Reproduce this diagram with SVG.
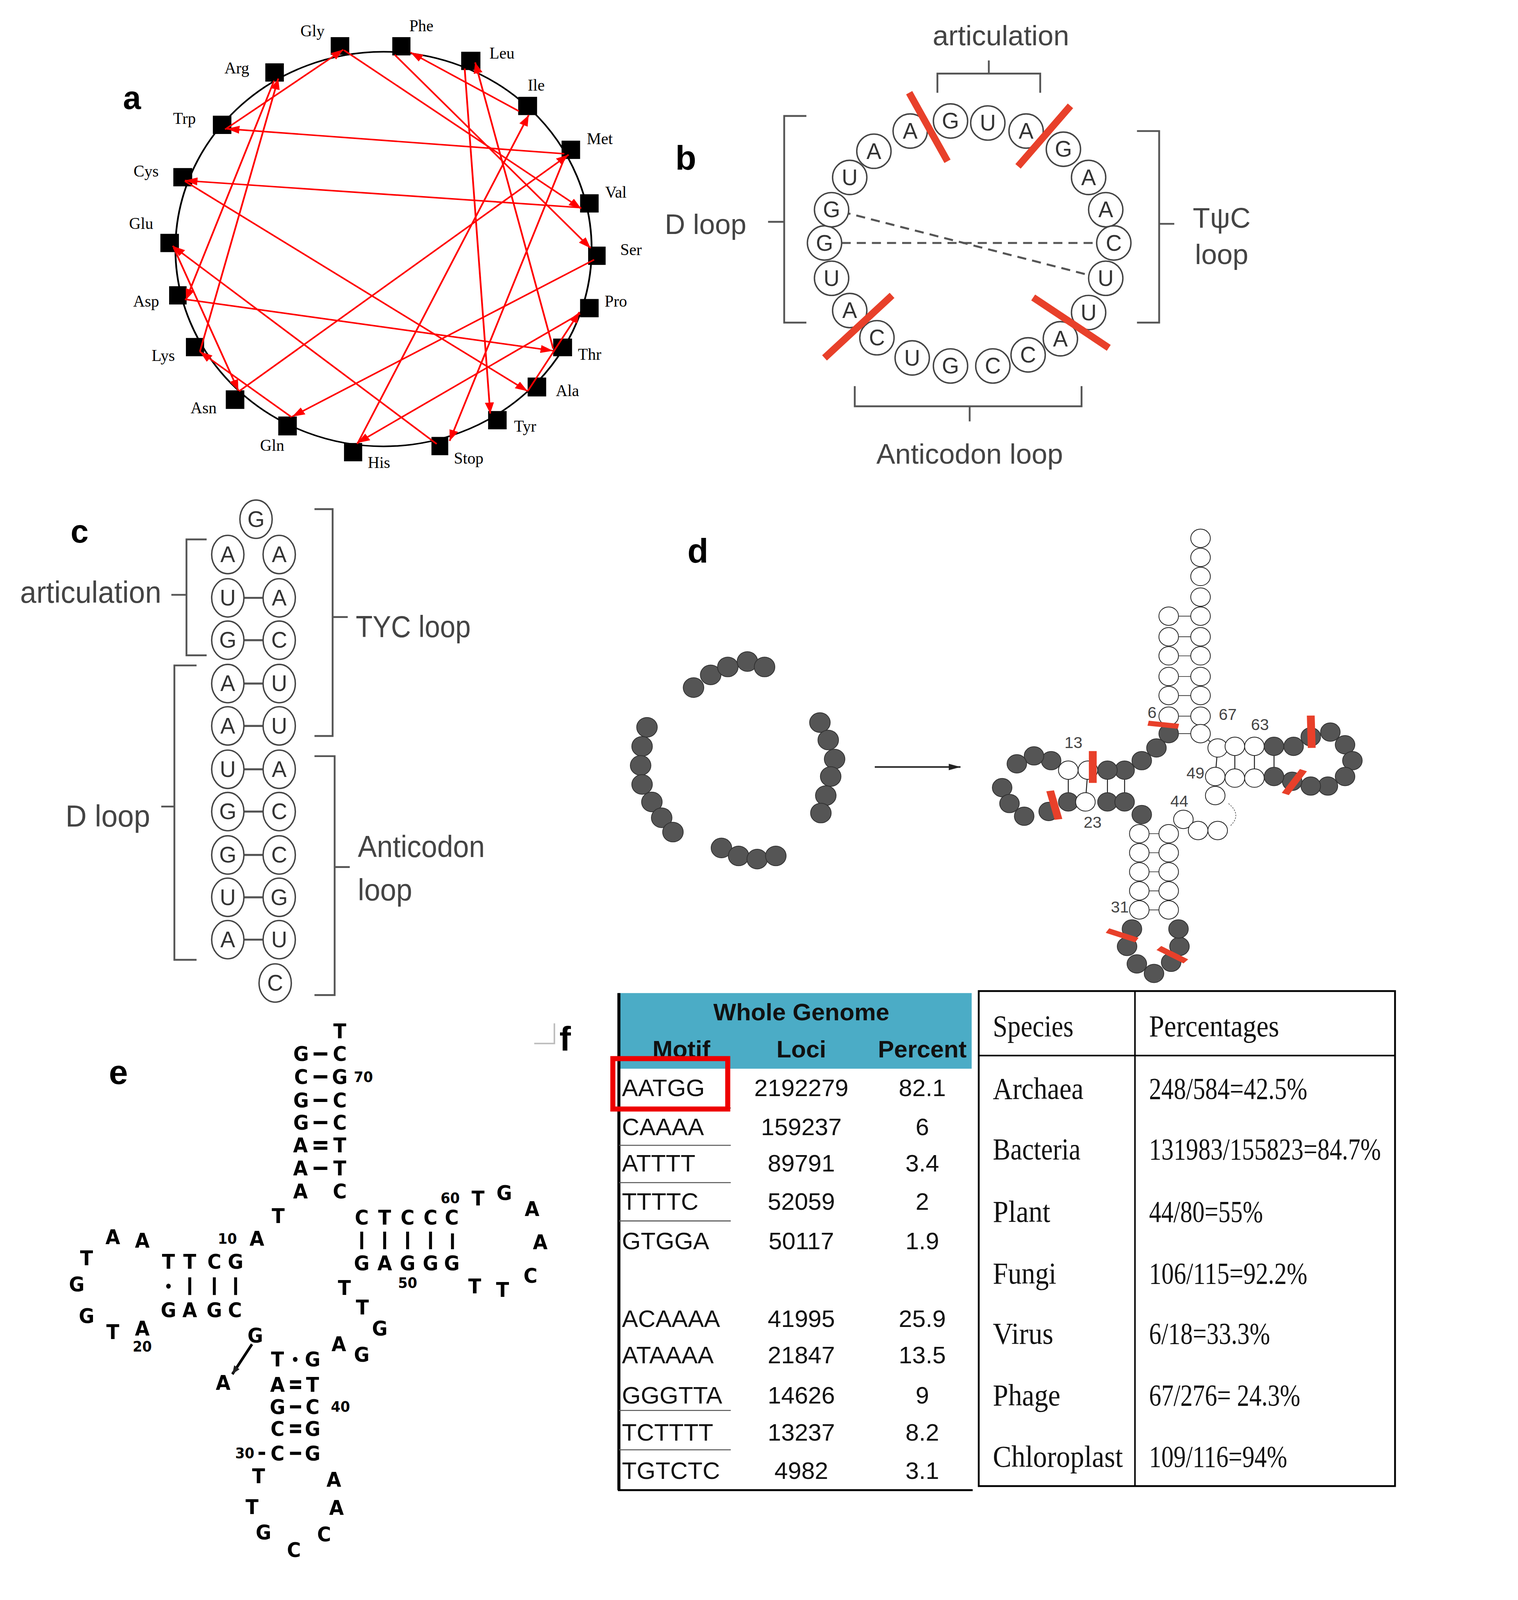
<svg xmlns="http://www.w3.org/2000/svg" width="3887" height="4300" viewBox="0 0 3887 4300">
<defs>
<style>
.lab{font-family:"Liberation Sans",Arial,sans-serif;font-weight:bold;fill:#000}
.aa{font-family:"Liberation Serif","Times New Roman",serif;font-size:16px;fill:#000}
.nt{font-family:"Liberation Sans",Arial,sans-serif;font-size:22px;fill:#333;text-anchor:middle;dominant-baseline:central}
.gt{font-family:"Liberation Sans",Arial,sans-serif;fill:#444}
.nc{fill:#fff;stroke:#444;stroke-width:1.4}
.arr{stroke:#f00;stroke-width:5;fill:none;marker-end:url(#ah)}
.brk{fill:none;stroke:#555;stroke-width:1.8}
.dk{fill:#555;stroke:#333;stroke-width:2;vector-effect:non-scaling-stroke}
.wt{fill:#fff;stroke:#222;stroke-width:2;vector-effect:non-scaling-stroke}
.rung{stroke:#222;stroke-width:2;vector-effect:non-scaling-stroke}
.red{stroke:#e8402a;stroke-width:7;stroke-linecap:butt}
.rd{stroke:#e8402a;stroke-width:16px;vector-effect:non-scaling-stroke}
.et{font-family:"DejaVu Sans","Liberation Sans",sans-serif;font-weight:bold;font-size:58px;text-anchor:middle;dominant-baseline:central}
.en{font-family:"DejaVu Sans","Liberation Sans",sans-serif;font-weight:bold;font-size:42px;text-anchor:middle;dominant-baseline:central}
.tb{font-family:"Liberation Sans",Arial,sans-serif;font-size:24px;fill:#111}
.sp{font-family:"Liberation Serif","Times New Roman",serif;font-size:30px;fill:#111}
</style>
<marker id="ah" markerUnits="userSpaceOnUse" markerWidth="40" markerHeight="30" refX="36" refY="13" orient="auto"><path d="M0,0 L36,13 L0,26 z" fill="#f00"/></marker>
<marker id="bh" markerUnits="userSpaceOnUse" markerWidth="30" markerHeight="30" refX="24" refY="10" orient="auto"><path d="M0,0 L24,10 L0,20 z" fill="#222"/></marker>
</defs>
<rect width="3887" height="4300" fill="#fff"/>
<g transform="scale(2.581)">
<!-- panel a -->
<g id="panel-a">
<text class="lab" x="122" y="108" font-size="32">a</text>
<g transform="translate(108.8,0) scale(0.347,0.302)">
<ellipse cx="783" cy="818" rx="595" ry="648" fill="none" stroke="#000" stroke-width="5"/>
<g fill="#000">
<rect x="632" y="122" width="53" height="58"/><rect x="808" y="122" width="52" height="60"/><rect x="1005" y="170" width="55" height="60"/><rect x="1168" y="318" width="54" height="60"/><rect x="1292" y="462" width="53" height="60"/><rect x="1345" y="638" width="53" height="60"/><rect x="1368" y="810" width="50" height="60"/><rect x="1345" y="982" width="53" height="60"/><rect x="1268" y="1112" width="54" height="58"/><rect x="1195" y="1240" width="53" height="62"/><rect x="1082" y="1350" width="53" height="60"/><rect x="920" y="1435" width="48" height="60"/><rect x="670" y="1455" width="52" height="60"/><rect x="482" y="1368" width="53" height="62"/><rect x="332" y="1282" width="53" height="61"/><rect x="218" y="1110" width="52" height="60"/><rect x="170" y="940" width="50" height="60"/><rect x="145" y="768" width="53" height="60"/><rect x="182" y="552" width="54" height="60"/><rect x="295" y="380" width="53" height="60"/><rect x="445" y="208" width="53" height="60"/>
</g>
<g id="connectors-a">
<line class="arr" x1="1300" y1="505" x2="335" y2="423"/>
<line class="arr" x1="330" y1="425" x2="668" y2="163"/>
<line class="arr" x1="670" y1="165" x2="1348" y2="685"/>
<line class="arr" x1="815" y1="180" x2="1375" y2="815"/>
<line class="arr" x1="1170" y1="365" x2="860" y2="172"/>
<line class="arr" x1="1015" y1="225" x2="1088" y2="1358"/>
<line class="arr" x1="1268" y1="1145" x2="1045" y2="205"/>
<line class="arr" x1="708" y1="1458" x2="1198" y2="378"/>
<line class="arr" x1="370" y1="1285" x2="1312" y2="508"/>
<line class="arr" x1="1300" y1="520" x2="972" y2="1448"/>
<line class="arr" x1="1195" y1="1285" x2="1343" y2="1025"/>
<line class="arr" x1="1345" y1="1030" x2="708" y2="1455"/>
<line class="arr" x1="1348" y1="682" x2="215" y2="593"/>
<line class="arr" x1="215" y1="595" x2="1195" y2="1285"/>
<line class="arr" x1="1385" y1="853" x2="522" y2="1368"/>
<line class="arr" x1="215" y1="983" x2="1268" y2="1152"/>
<line class="arr" x1="258" y1="1155" x2="482" y2="258"/>
<line class="arr" x1="470" y1="265" x2="218" y2="985"/>
<line class="arr" x1="183" y1="813" x2="368" y2="1283"/>
<line class="arr" x1="520" y1="1370" x2="258" y2="1155"/>
<line class="arr" x1="935" y1="1458" x2="180" y2="808"/>
</g>
</g>
<g class="aa" text-anchor="middle">
<text x="310" y="36">Gly</text><text x="418" y="31">Phe</text><text x="498" y="58">Leu</text><text x="532" y="90">Ile</text><text x="595" y="143">Met</text><text x="611" y="196">Val</text><text x="626" y="253">Ser</text><text x="611" y="304">Pro</text><text x="585" y="357">Thr</text><text x="563" y="393">Ala</text><text x="521" y="428">Tyr</text><text x="465" y="460">Stop</text><text x="376" y="464">His</text><text x="270" y="447">Gln</text><text x="202" y="410">Asn</text><text x="162" y="358">Lys</text><text x="145" y="304">Asp</text><text x="140" y="227">Glu</text><text x="145" y="175">Cys</text><text x="183" y="123">Trp</text><text x="235" y="73">Arg</text>
</g>
</g>
<!-- panel b -->
<g id="panel-b">
<text class="lab" x="670" y="168" font-size="34">b</text>
<g class="brk">
<path d="M930,92 V73 H1032 V92 M981,73 V60"/>
<path d="M800,115 H778 V320 H800 M778,220 H762"/>
<path d="M1128,130 H1150 V320 H1128 M1150,222 H1165"/>
<path d="M848,383 V403 H1073 V383 M962,403 V418"/>
</g>
<text class="gt" x="993" y="45" font-size="28" text-anchor="middle">articulation</text>
<text class="gt" x="700" y="232" font-size="28" text-anchor="middle">D loop</text>
<text class="gt" x="1212" y="226" font-size="28" text-anchor="middle">TψC</text>
<text class="gt" x="1212" y="262" font-size="28" text-anchor="middle">loop</text>
<text class="gt" x="962" y="460" font-size="28" text-anchor="middle">Anticodon loop</text>
<g stroke="#555" stroke-width="2" stroke-dasharray="9,6" fill="none">
<line x1="835" y1="210" x2="1085" y2="274"/><line x1="835" y1="241" x2="1088" y2="241"/>
</g>
<g>
<circle class="nc" cx="903" cy="130" r="17"/><circle class="nc" cx="943" cy="120" r="17"/><circle class="nc" cx="980" cy="122" r="17"/><circle class="nc" cx="1018" cy="130" r="17"/><circle class="nc" cx="1055" cy="148" r="17"/><circle class="nc" cx="1080" cy="176" r="17"/><circle class="nc" cx="1097" cy="208" r="17"/><circle class="nc" cx="1105" cy="241" r="17"/><circle class="nc" cx="1097" cy="276" r="17"/><circle class="nc" cx="1080" cy="310" r="17"/><circle class="nc" cx="1052" cy="336" r="17"/><circle class="nc" cx="1020" cy="352" r="17"/><circle class="nc" cx="985" cy="363" r="17"/><circle class="nc" cx="943" cy="363" r="17"/><circle class="nc" cx="905" cy="355" r="17"/><circle class="nc" cx="870" cy="335" r="17"/><circle class="nc" cx="843" cy="308" r="17"/><circle class="nc" cx="825" cy="276" r="17"/><circle class="nc" cx="818" cy="241" r="17"/><circle class="nc" cx="825" cy="208" r="17"/><circle class="nc" cx="843" cy="176" r="17"/><circle class="nc" cx="867" cy="150" r="17"/>
</g>
<g class="nt">
<text x="903" y="130">A</text><text x="943" y="120">G</text><text x="980" y="122">U</text><text x="1018" y="130">A</text><text x="1055" y="148">G</text><text x="1080" y="176">A</text><text x="1097" y="208">A</text><text x="1105" y="241">C</text><text x="1097" y="276">U</text><text x="1080" y="310">U</text><text x="1052" y="336">A</text><text x="1020" y="352">C</text><text x="985" y="363">C</text><text x="943" y="363">G</text><text x="905" y="355">U</text><text x="870" y="335">C</text><text x="843" y="308">A</text><text x="825" y="276">U</text><text x="818" y="241">G</text><text x="825" y="208">G</text><text x="843" y="176">U</text><text x="867" y="150">A</text>
</g>
<g class="red">
<line x1="902" y1="92" x2="940" y2="160"/><line x1="1010" y1="165" x2="1062" y2="105"/><line x1="818" y1="355" x2="885" y2="293"/><line x1="1025" y1="295" x2="1100" y2="345"/>
</g>
</g>
<!-- panel c -->
<g id="panel-c">
<text class="lab" x="70" y="538" font-size="32">c</text>
<g class="brk">
<path d="M205,535 H185 V650 H205 M185,590 H170"/>
<path d="M195,660 H173 V952 H195 M173,800 H160"/>
<path d="M312,505 H330 V730 H312 M330,612 H345"/>
<path d="M312,750 H332 V987 H312 M332,860 H347"/>
</g>
<text class="gt" x="160" y="598" font-size="30" text-anchor="end" textLength="140" lengthAdjust="spacingAndGlyphs">articulation</text>
<text class="gt" x="107" y="820" font-size="30" text-anchor="middle" textLength="84" lengthAdjust="spacingAndGlyphs">D loop</text>
<text class="gt" x="410" y="632" font-size="30" text-anchor="middle" textLength="114" lengthAdjust="spacingAndGlyphs">TYC loop</text>
<text class="gt" x="418" y="850" font-size="30" text-anchor="middle" textLength="126" lengthAdjust="spacingAndGlyphs">Anticodon</text>
<text class="gt" x="382" y="893" font-size="30" text-anchor="middle" textLength="54" lengthAdjust="spacingAndGlyphs">loop</text>
<g stroke="#555" stroke-width="2">
<line x1="242" y1="593" x2="261" y2="593"/><line x1="242" y1="635" x2="261" y2="635"/><line x1="242" y1="678" x2="261" y2="678"/><line x1="242" y1="720" x2="261" y2="720"/><line x1="242" y1="763" x2="261" y2="763"/><line x1="242" y1="805" x2="261" y2="805"/><line x1="242" y1="848" x2="261" y2="848"/><line x1="242" y1="890" x2="261" y2="890"/><line x1="242" y1="932" x2="261" y2="932"/>
</g>
<g>
<ellipse class="nc" cx="254" cy="515" rx="16" ry="19"/><ellipse class="nc" cx="273" cy="975" rx="16" ry="19"/>
<ellipse class="nc" cx="226" cy="550" rx="16" ry="19"/><ellipse class="nc" cx="277" cy="550" rx="16" ry="19"/>
<ellipse class="nc" cx="226" cy="593" rx="16" ry="19"/><ellipse class="nc" cx="277" cy="593" rx="16" ry="19"/>
<ellipse class="nc" cx="226" cy="635" rx="16" ry="19"/><ellipse class="nc" cx="277" cy="635" rx="16" ry="19"/>
<ellipse class="nc" cx="226" cy="678" rx="16" ry="19"/><ellipse class="nc" cx="277" cy="678" rx="16" ry="19"/>
<ellipse class="nc" cx="226" cy="720" rx="16" ry="19"/><ellipse class="nc" cx="277" cy="720" rx="16" ry="19"/>
<ellipse class="nc" cx="226" cy="763" rx="16" ry="19"/><ellipse class="nc" cx="277" cy="763" rx="16" ry="19"/>
<ellipse class="nc" cx="226" cy="805" rx="16" ry="19"/><ellipse class="nc" cx="277" cy="805" rx="16" ry="19"/>
<ellipse class="nc" cx="226" cy="848" rx="16" ry="19"/><ellipse class="nc" cx="277" cy="848" rx="16" ry="19"/>
<ellipse class="nc" cx="226" cy="890" rx="16" ry="19"/><ellipse class="nc" cx="277" cy="890" rx="16" ry="19"/>
<ellipse class="nc" cx="226" cy="932" rx="16" ry="19"/><ellipse class="nc" cx="277" cy="932" rx="16" ry="19"/>
</g>
<g class="nt" font-size="26">
<text x="254" y="515">G</text><text x="273" y="975">C</text>
<text x="226" y="550">A</text><text x="277" y="550">A</text>
<text x="226" y="593">U</text><text x="277" y="593">A</text>
<text x="226" y="635">G</text><text x="277" y="635">C</text>
<text x="226" y="678">A</text><text x="277" y="678">U</text>
<text x="226" y="720">A</text><text x="277" y="720">U</text>
<text x="226" y="763">U</text><text x="277" y="763">A</text>
<text x="226" y="805">G</text><text x="277" y="805">C</text>
<text x="226" y="848">G</text><text x="277" y="848">C</text>
<text x="226" y="890">U</text><text x="277" y="890">G</text>
<text x="226" y="932">A</text><text x="277" y="932">U</text>
</g>
</g>
<!-- panel d -->
<g id="panel-d">
<text class="lab" x="682" y="558" font-size="34">d</text>
<g transform="translate(620,493) scale(0.486,0.315)">
<g id="d-lines">
<line x1="510" y1="850" x2="685" y2="850" stroke="#222" stroke-width="4" vector-effect="non-scaling-stroke" marker-end="url(#bh)"/>
<g class="rung">
<line x1="1110" y1="375" x2="1175" y2="375"/><line x1="1110" y1="440" x2="1175" y2="440"/><line x1="1110" y1="500" x2="1175" y2="500"/><line x1="1110" y1="565" x2="1175" y2="565"/><line x1="1110" y1="625" x2="1175" y2="625"/><line x1="1110" y1="690" x2="1175" y2="690"/>
<line x1="1175" y1="690" x2="1175" y2="745"/><line x1="1175" y1="745" x2="1210" y2="790"/>
<line x1="1210" y1="790" x2="1205" y2="880"/><line x1="1245" y1="785" x2="1245" y2="885"/><line x1="1285" y1="785" x2="1285" y2="885"/><line x1="1325" y1="785" x2="1325" y2="880"/>
<line x1="1210" y1="790" x2="1365" y2="785"/><line x1="1205" y1="880" x2="1325" y2="880"/>
<line x1="905" y1="860" x2="905" y2="960"/><line x1="945" y1="860" x2="940" y2="960"/><line x1="985" y1="860" x2="985" y2="960"/><line x1="1020" y1="860" x2="1020" y2="960"/>
<line x1="1050" y1="1060" x2="1110" y2="1060"/><line x1="1050" y1="1120" x2="1110" y2="1120"/><line x1="1050" y1="1180" x2="1110" y2="1180"/><line x1="1050" y1="1240" x2="1110" y2="1240"/><line x1="1050" y1="1300" x2="1110" y2="1300"/>
<line x1="1110" y1="745" x2="1175" y2="745"/>
</g>
<path d="M1232,965 Q1260,1000 1236,1035" fill="none" stroke="#444" stroke-width="1.5" stroke-dasharray="4,3" vector-effect="non-scaling-stroke"/>
</g>
<g>
<ellipse class="dk" cx="140" cy="600" rx="21" ry="31"/><ellipse class="dk" cx="175" cy="560" rx="21" ry="31"/><ellipse class="dk" cx="210" cy="535" rx="21" ry="31"/><ellipse class="dk" cx="250" cy="518" rx="21" ry="31"/><ellipse class="dk" cx="285" cy="535" rx="21" ry="31"/>
<ellipse class="dk" cx="45" cy="725" rx="21" ry="31"/><ellipse class="dk" cx="35" cy="785" rx="21" ry="31"/><ellipse class="dk" cx="32" cy="845" rx="21" ry="31"/><ellipse class="dk" cx="35" cy="905" rx="21" ry="31"/><ellipse class="dk" cx="55" cy="960" rx="21" ry="31"/><ellipse class="dk" cx="75" cy="1010" rx="21" ry="31"/><ellipse class="dk" cx="98" cy="1055" rx="21" ry="31"/>
<ellipse class="dk" cx="398" cy="710" rx="21" ry="31"/><ellipse class="dk" cx="415" cy="765" rx="21" ry="31"/><ellipse class="dk" cx="428" cy="825" rx="21" ry="31"/><ellipse class="dk" cx="420" cy="880" rx="21" ry="31"/><ellipse class="dk" cx="410" cy="940" rx="21" ry="31"/><ellipse class="dk" cx="400" cy="995" rx="21" ry="31"/>
<ellipse class="dk" cx="197" cy="1105" rx="21" ry="31"/><ellipse class="dk" cx="232" cy="1130" rx="21" ry="31"/><ellipse class="dk" cx="270" cy="1140" rx="21" ry="31"/><ellipse class="dk" cx="308" cy="1130" rx="21" ry="31"/>
</g>
<g>
<ellipse class="wt" cx="1175" cy="130" rx="20" ry="29"/><ellipse class="wt" cx="1175" cy="190" rx="20" ry="29"/><ellipse class="wt" cx="1175" cy="250" rx="20" ry="29"/><ellipse class="wt" cx="1175" cy="315" rx="20" ry="29"/><ellipse class="wt" cx="1175" cy="375" rx="20" ry="29"/><ellipse class="wt" cx="1175" cy="440" rx="20" ry="29"/><ellipse class="wt" cx="1175" cy="500" rx="20" ry="29"/><ellipse class="wt" cx="1175" cy="565" rx="20" ry="29"/><ellipse class="wt" cx="1175" cy="625" rx="20" ry="29"/><ellipse class="wt" cx="1175" cy="690" rx="20" ry="29"/><ellipse class="wt" cx="1175" cy="745" rx="20" ry="29"/>
<ellipse class="wt" cx="1110" cy="375" rx="20" ry="29"/><ellipse class="wt" cx="1110" cy="440" rx="20" ry="29"/><ellipse class="wt" cx="1110" cy="500" rx="20" ry="29"/><ellipse class="wt" cx="1110" cy="565" rx="20" ry="29"/><ellipse class="wt" cx="1110" cy="625" rx="20" ry="29"/><ellipse class="wt" cx="1110" cy="690" rx="20" ry="29"/>
<ellipse class="dk" cx="1110" cy="745" rx="20" ry="29"/><ellipse class="dk" cx="1085" cy="790" rx="20" ry="29"/><ellipse class="dk" cx="1055" cy="830" rx="20" ry="29"/><ellipse class="dk" cx="1020" cy="860" rx="20" ry="29"/><ellipse class="dk" cx="985" cy="860" rx="20" ry="29"/>
<ellipse class="wt" cx="945" cy="860" rx="20" ry="29"/><ellipse class="wt" cx="905" cy="860" rx="20" ry="29"/>
<ellipse class="dk" cx="870" cy="830" rx="20" ry="29"/><ellipse class="dk" cx="835" cy="815" rx="20" ry="29"/><ellipse class="dk" cx="800" cy="840" rx="20" ry="29"/>
<ellipse class="dk" cx="770" cy="915" rx="20" ry="29"/><ellipse class="dk" cx="785" cy="965" rx="20" ry="29"/><ellipse class="dk" cx="815" cy="1005" rx="20" ry="29"/>
<ellipse class="dk" cx="865" cy="990" rx="20" ry="29"/><ellipse class="dk" cx="905" cy="960" rx="20" ry="29"/><ellipse class="wt" cx="940" cy="960" rx="20" ry="29"/><ellipse class="dk" cx="985" cy="960" rx="20" ry="29"/><ellipse class="dk" cx="1020" cy="960" rx="20" ry="29"/><ellipse class="dk" cx="1055" cy="1000" rx="20" ry="29"/>
<ellipse class="wt" cx="1050" cy="1060" rx="20" ry="29"/><ellipse class="wt" cx="1050" cy="1120" rx="20" ry="29"/><ellipse class="wt" cx="1050" cy="1180" rx="20" ry="29"/><ellipse class="wt" cx="1050" cy="1240" rx="20" ry="29"/><ellipse class="wt" cx="1050" cy="1300" rx="20" ry="29"/>
<ellipse class="wt" cx="1110" cy="1060" rx="20" ry="29"/><ellipse class="wt" cx="1110" cy="1120" rx="20" ry="29"/><ellipse class="wt" cx="1110" cy="1180" rx="20" ry="29"/><ellipse class="wt" cx="1110" cy="1240" rx="20" ry="29"/><ellipse class="wt" cx="1110" cy="1300" rx="20" ry="29"/>
<ellipse class="dk" cx="1035" cy="1360" rx="20" ry="29"/><ellipse class="dk" cx="1025" cy="1415" rx="20" ry="29"/><ellipse class="dk" cx="1045" cy="1470" rx="20" ry="29"/><ellipse class="dk" cx="1080" cy="1500" rx="20" ry="29"/><ellipse class="dk" cx="1115" cy="1465" rx="20" ry="29"/><ellipse class="dk" cx="1132" cy="1415" rx="20" ry="29"/><ellipse class="dk" cx="1130" cy="1360" rx="20" ry="29"/>
<ellipse class="wt" cx="1140" cy="1015" rx="20" ry="29"/><ellipse class="wt" cx="1170" cy="1050" rx="20" ry="29"/><ellipse class="wt" cx="1210" cy="1050" rx="20" ry="29"/><ellipse class="wt" cx="1205" cy="940" rx="20" ry="29"/>
<ellipse class="wt" cx="1210" cy="790" rx="20" ry="29"/><ellipse class="wt" cx="1245" cy="785" rx="20" ry="29"/><ellipse class="wt" cx="1285" cy="785" rx="20" ry="29"/><ellipse class="dk" cx="1325" cy="785" rx="20" ry="29"/><ellipse class="dk" cx="1365" cy="785" rx="20" ry="29"/><ellipse class="dk" cx="1400" cy="755" rx="20" ry="29"/>
<ellipse class="dk" cx="1440" cy="740" rx="20" ry="29"/><ellipse class="dk" cx="1470" cy="780" rx="20" ry="29"/><ellipse class="dk" cx="1485" cy="830" rx="20" ry="29"/><ellipse class="dk" cx="1470" cy="880" rx="20" ry="29"/><ellipse class="dk" cx="1435" cy="910" rx="20" ry="29"/><ellipse class="dk" cx="1400" cy="910" rx="20" ry="29"/><ellipse class="dk" cx="1362" cy="895" rx="20" ry="29"/>
<ellipse class="wt" cx="1205" cy="880" rx="20" ry="29"/><ellipse class="wt" cx="1245" cy="885" rx="20" ry="29"/><ellipse class="wt" cx="1285" cy="885" rx="20" ry="29"/><ellipse class="dk" cx="1325" cy="880" rx="20" ry="29"/>
</g>
<g class="rd">
<line x1="1068" y1="712" x2="1130" y2="722"/>
<line x1="955" y1="800" x2="955" y2="900"/>
<line x1="868" y1="925" x2="885" y2="1015"/>
<line x1="1400" y1="688" x2="1402" y2="790"/>
<line x1="1385" y1="860" x2="1348" y2="935"/>
<line x1="985" y1="1365" x2="1045" y2="1395"/>
<line x1="1090" y1="1420" x2="1145" y2="1462"/>
</g>
</g>
<g class="gt" font-size="16" fill="#666">
<text x="1143" y="712" text-anchor="middle">6</text><text x="1218" y="714" text-anchor="middle">67</text><text x="1250" y="724" text-anchor="middle">63</text><text x="1065" y="742" text-anchor="middle">13</text><text x="1186" y="772" text-anchor="middle">49</text><text x="1170" y="800" text-anchor="middle">44</text><text x="1084" y="821" text-anchor="middle">23</text><text x="1111" y="905" text-anchor="middle">31</text>
</g>
</g>
<!-- panel e -->
<g id="panel-e">
<text class="lab" x="108" y="1075" font-size="34">e</text>
<g transform="translate(55,1000) scale(0.325,0.349)">
<g class="et">
<text x="868" y="65">T</text>
<text x="750" y="130">G</text><text x="868" y="130">C</text>
<text x="750" y="195">C</text><text x="868" y="195">G</text>
<text x="750" y="262">G</text><text x="868" y="262">C</text>
<text x="750" y="325">G</text><text x="868" y="325">C</text>
<text x="748" y="390">A</text><text x="868" y="390">T</text>
<text x="748" y="455">A</text><text x="868" y="455">T</text>
<text x="748" y="520">A</text><text x="868" y="520">C</text>
<text x="680" y="590">T</text>
<text x="1290" y="540">T</text><text x="1370" y="525">G</text><text x="1455" y="570">A</text><text x="1480" y="665">A</text><text x="1450" y="760">C</text><text x="1365" y="800">T</text><text x="1280" y="790">T</text>
<text x="935" y="595">C</text><text x="1005" y="595">T</text><text x="1075" y="595">C</text><text x="1145" y="595">C</text><text x="1210" y="595">C</text>
<text x="935" y="725">G</text><text x="1005" y="725">A</text><text x="1075" y="725">G</text><text x="1145" y="725">G</text><text x="1210" y="725">G</text>
<text x="882" y="795">T</text><text x="937" y="850">T</text><text x="990" y="910">G</text><text x="935" y="985">G</text><text x="865" y="955">A</text>
<text x="95" y="710">T</text><text x="175" y="650">A</text><text x="265" y="660">A</text><text x="65" y="785">G</text><text x="95" y="875">G</text><text x="175" y="920">T</text><text x="265" y="910">A</text>
<text x="615" y="655">A</text>
<text x="345" y="720">T</text><text x="410" y="720">T</text><text x="485" y="720">C</text><text x="550" y="720">G</text>
<text x="345" y="858">G</text><text x="410" y="858">A</text><text x="485" y="858">G</text><text x="548" y="858">C</text>
<text x="610" y="930">G</text><text x="512" y="1065">A</text>
<text x="678" y="998">T</text><text x="785" y="998">G</text>
<text x="678" y="1070">A</text><text x="785" y="1070">T</text>
<text x="678" y="1133">G</text><text x="785" y="1133">C</text>
<text x="678" y="1195">C</text><text x="785" y="1195">G</text>
<text x="678" y="1265">C</text><text x="785" y="1265">G</text>
<text x="620" y="1330">T</text><text x="850" y="1340">A</text><text x="600" y="1418">T</text><text x="858" y="1420">A</text><text x="635" y="1490">G</text><text x="820" y="1495">C</text><text x="728" y="1540">C</text>
</g>
<g class="en">
<text x="940" y="195">70</text><text x="1205" y="540">60</text><text x="1075" y="780">50</text><text x="265" y="962">20</text><text x="525" y="655">10</text><text x="870" y="1133">40</text><text x="578" y="1265">30</text>
</g>
<g stroke="#000" stroke-width="9" fill="none">
<path d="M788,130 H830 M788,195 H830 M788,262 H830 M788,325 H830 M788,382 H830 M788,398 H830 M788,455 H830 M716,1062 H750 M716,1078 H750 M716,1133 H750 M716,1187 H750 M716,1203 H750 M716,1265 H750 M620,1265 H640"/>
<path d="M935,635 V685 M1005,635 V685 M1075,635 V685 M1145,635 V685 M1212,640 V685"/>
<path d="M410,765 V815 M485,765 V815 M550,765 V815"/>
</g>
<circle cx="345" cy="790" r="7"/><circle cx="732" cy="998" r="7"/>
<line x1="600" y1="955" x2="540" y2="1040" stroke="#000" stroke-width="8" marker-end="url(#bh)"/>
</g>
</g>
<!-- panel f -->
<g id="panel-f">
<path d="M530,1035 H550 V1015" fill="none" stroke="#bbb" stroke-width="1.5"/>
<text class="lab" x="555" y="1042" font-size="34">f</text>
<rect x="613" y="985" width="351" height="75" fill="#4bacc6"/>
<line x1="614" y1="985" x2="614" y2="1478" stroke="#000" stroke-width="3"/>
<line x1="613" y1="1478" x2="965" y2="1478" stroke="#000" stroke-width="2"/>
<g stroke="#555" stroke-width="1">
<line x1="614" y1="1099" x2="725" y2="1099"/><line x1="614" y1="1136" x2="725" y2="1136"/><line x1="614" y1="1173" x2="725" y2="1173"/><line x1="614" y1="1211" x2="725" y2="1211"/><line x1="614" y1="1399" x2="725" y2="1399"/><line x1="614" y1="1438" x2="725" y2="1438"/>
</g>
<g class="tb" font-weight="bold" text-anchor="middle">
<text x="795" y="1012">Whole Genome</text><text x="676" y="1049">Motif</text><text x="795" y="1049">Loci</text><text x="915" y="1049">Percent</text>
</g>
<g class="tb" font-size="26">
<text x="617" y="1087">AATGG</text><text x="617" y="1126">CAAAA</text><text x="617" y="1162">ATTTT</text><text x="617" y="1200">TTTTC</text><text x="617" y="1239">GTGGA</text>
<text x="617" y="1316">ACAAAA</text><text x="617" y="1352">ATAAAA</text><text x="617" y="1392">GGGTTA</text><text x="617" y="1429">TCTTTT</text><text x="617" y="1467">TGTCTC</text>
</g>
<g class="tb" font-size="26" text-anchor="middle">
<text x="795" y="1087">2192279</text><text x="795" y="1126">159237</text><text x="795" y="1162">89791</text><text x="795" y="1200">52059</text><text x="795" y="1239">50117</text>
<text x="795" y="1316">41995</text><text x="795" y="1352">21847</text><text x="795" y="1392">14626</text><text x="795" y="1429">13237</text><text x="795" y="1467">4982</text>
<text x="915" y="1087">82.1</text><text x="915" y="1126">6</text><text x="915" y="1162">3.4</text><text x="915" y="1200">2</text><text x="915" y="1239">1.9</text>
<text x="915" y="1316">25.9</text><text x="915" y="1352">13.5</text><text x="915" y="1392">9</text><text x="915" y="1429">8.2</text><text x="915" y="1467">3.1</text>
</g>
<rect x="608" y="1050" width="114" height="50" fill="none" stroke="#e00" stroke-width="5"/>
<rect x="971" y="983" width="413" height="491" fill="none" stroke="#000" stroke-width="1.8"/>
<line x1="1126" y1="983" x2="1126" y2="1474" stroke="#000" stroke-width="1.5"/>
<line x1="971" y1="1047" x2="1384" y2="1047" stroke="#000" stroke-width="1.5"/>
<g class="sp">
<text x="985" y="1028" textLength="80" lengthAdjust="spacingAndGlyphs">Species</text><text x="1140" y="1028" textLength="129" lengthAdjust="spacingAndGlyphs">Percentages</text>
<text x="985" y="1090" textLength="90" lengthAdjust="spacingAndGlyphs">Archaea</text><text x="985" y="1150" textLength="87" lengthAdjust="spacingAndGlyphs">Bacteria</text><text x="985" y="1212" textLength="57" lengthAdjust="spacingAndGlyphs">Plant</text><text x="985" y="1273" textLength="63" lengthAdjust="spacingAndGlyphs">Fungi</text><text x="985" y="1333" textLength="60" lengthAdjust="spacingAndGlyphs">Virus</text><text x="985" y="1394" textLength="67" lengthAdjust="spacingAndGlyphs">Phage</text><text x="985" y="1455" textLength="129" lengthAdjust="spacingAndGlyphs">Chloroplast</text>
<text x="1140" y="1090" textLength="157" lengthAdjust="spacingAndGlyphs">248/584=42.5%</text><text x="1140" y="1150" textLength="230" lengthAdjust="spacingAndGlyphs">131983/155823=84.7%</text><text x="1140" y="1212" textLength="113" lengthAdjust="spacingAndGlyphs">44/80=55%</text><text x="1140" y="1273" textLength="157" lengthAdjust="spacingAndGlyphs">106/115=92.2%</text><text x="1140" y="1333" textLength="120" lengthAdjust="spacingAndGlyphs">6/18=33.3%</text><text x="1140" y="1394" textLength="150" lengthAdjust="spacingAndGlyphs">67/276= 24.3%</text><text x="1140" y="1455" textLength="137" lengthAdjust="spacingAndGlyphs">109/116=94%</text>
</g>
</g>
</g>
</svg>
